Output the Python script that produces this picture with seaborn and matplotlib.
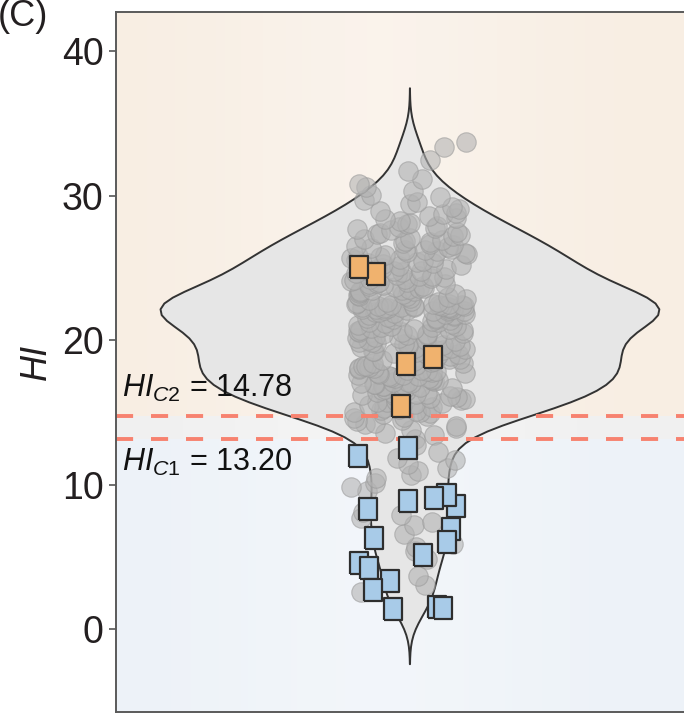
import numpy as np
import pandas as pd
import matplotlib.pyplot as plt
import seaborn as sns
from matplotlib.transforms import blended_transform_factory

# -------------------------------
# Data
# -------------------------------
# grey dots: HI of the samples above the thresholds
hi_grey_high = [
    13.18, 13.45, 13.62, 13.82, 13.94,
    14.06, 14.19, 14.31, 14.44, 14.53, 14.62, 14.71, 14.79, 14.88, 14.97,
    15.02, 15.08, 15.15, 15.21, 15.27, 15.33, 15.40, 15.46, 15.52, 15.58, 15.65, 15.71, 15.77,
    15.83, 15.90, 15.96,
    16.01, 16.06, 16.13, 16.16, 16.23, 16.28, 16.31, 16.38, 16.41, 16.48, 16.53, 16.56, 16.63,
    16.66, 16.74, 16.77, 16.83, 16.86, 16.92, 16.98,
    17.02, 17.06, 17.09, 17.11, 17.15, 17.20, 17.24, 17.29, 17.33, 17.37, 17.42, 17.46, 17.51,
    17.55, 17.60, 17.64, 17.69, 17.73, 17.78, 17.82, 17.87, 17.91, 17.94, 17.96,
    18.03, 18.07, 18.12, 18.16, 18.21, 18.25, 18.30, 18.43, 18.47, 18.52, 18.56, 18.61, 18.65,
    18.70, 18.74, 18.79, 18.83, 18.92, 18.97,
    19.01, 19.06, 19.10, 19.15, 19.19, 19.24, 19.28, 19.33, 19.37, 19.42, 19.46, 19.51, 19.55,
    19.60, 19.64, 19.69, 19.73, 19.78, 19.82, 19.87, 19.91, 19.96,
    20.02, 20.06, 20.14, 20.19, 20.23, 20.31, 20.35, 20.40, 20.44, 20.48, 20.52,
    20.56, 20.61, 20.65, 20.69, 20.73, 20.77, 20.82, 20.86, 20.90, 20.94, 20.98,
    21.02, 21.10, 21.14, 21.18, 21.26, 21.30, 21.34, 21.42, 21.46, 21.50,
    21.54, 21.58, 21.62, 21.66, 21.70, 21.74, 21.78, 21.82, 21.86, 21.90, 21.94, 21.98,
    22.01, 22.04, 22.06, 22.09, 22.11, 22.14, 22.16, 22.19, 22.21, 22.23, 22.24, 22.26, 22.28,
    22.29, 22.31, 22.33, 22.34, 22.36, 22.38, 22.39, 22.41, 22.43, 22.44, 22.47, 22.50, 22.52,
    22.54, 22.58, 22.63, 22.68, 22.74, 22.81, 22.88, 22.95,
    23.02, 23.07, 23.11, 23.16, 23.20, 23.25, 23.29, 23.34, 23.39, 23.43, 23.48, 23.52, 23.57,
    23.61, 23.66, 23.71, 23.75, 23.80, 23.84, 23.89, 23.93, 23.98,
    24.03, 24.08, 24.13, 24.18, 24.23, 24.28, 24.33, 24.38, 24.43, 24.48, 24.53, 24.68, 24.73,
    24.78, 24.83, 24.88, 24.93, 24.98,
    25.03, 25.15, 25.21, 25.27, 25.33, 25.39, 25.45, 25.51, 25.57, 25.63, 25.69, 25.75, 25.81,
    25.87, 25.93, 25.98,
    26.03, 26.10, 26.16, 26.23, 26.29, 26.36, 26.42, 26.49, 26.55, 26.62, 26.68, 26.75, 26.81,
    26.88, 26.94,
    27.04, 27.12, 27.20, 27.28, 27.36, 27.45, 27.53, 27.61, 27.69, 27.78, 27.86, 27.94,
    28.05, 28.16, 28.27, 28.38, 28.50, 28.61, 28.72, 28.83, 28.94,
    29.08, 29.25, 29.42, 29.58, 29.75, 29.92,
    30.10, 30.35, 30.60, 30.85,
    31.20, 31.70,
    32.50, 33.40, 33.70,
]
# grey dots below the thresholds
hi_grey_low = [
    2.60, 3.10, 3.70, 4.90, 5.40, 5.70, 5.95, 6.60, 7.20, 7.45, 7.70, 7.95, 8.10,
    9.60, 9.85, 10.15, 10.45, 10.70, 10.95, 11.20, 11.45, 11.70, 11.90, 12.30, 12.80,
]
# highlighted samples (squares)
hi_orange = [24.60, 25.10, 18.37, 18.86, 15.47]
hi_blue = [12.56, 12.00, 8.89, 8.55, 9.31, 9.10, 8.34, 6.96, 6.06, 6.33,
           5.16, 4.60, 4.26, 3.36, 2.73, 1.56, 1.49, 1.42]

hi_c1 = 13.20
hi_c2 = 14.78
y_ticks = [0, 10, 20, 30, 40]

grey_vals = hi_grey_high + hi_grey_low
all_vals = grey_vals + hi_orange + hi_blue

df_sq = pd.DataFrame({
    "HI": hi_orange + hi_blue,
    "group": ["high"] * len(hi_orange) + ["low"] * len(hi_blue),
})

# -------------------------------
# Style
# -------------------------------
sns.set_style("ticks")
plt.rcParams['font.family'] = ['Liberation Sans', 'DejaVu Sans']
plt.rcParams['mathtext.fontset'] = 'custom'
plt.rcParams['mathtext.rm'] = 'Liberation Sans'
plt.rcParams['mathtext.it'] = 'Liberation Sans:italic'
text_col = '#231f20'

fig = plt.figure(figsize=(6.84, 7.14), dpi=100)
ax = fig.add_axes([0.1696, 0.0028, 0.858, 0.9804])

ylo, yhi = -5.71, 42.73

# background bands
ax.axhspan(hi_c2, yhi, color='#f8eee3', zorder=0, lw=0)
ax.axhspan(hi_c1, hi_c2, color='#f0f0f0', zorder=0, lw=0)
ax.axhspan(ylo, hi_c1, color='#edf2f8', zorder=0, lw=0)
# soft light glow in the middle
gx = np.linspace(-0.5, 0.5, 300)
glow = np.zeros((2, 300, 4))
glow[..., :3] = 1.0
glow[..., 3] = 0.3 * np.exp(-((gx + 0.05) / 0.28) ** 2)
ax.imshow(glow, extent=[-0.5, 0.5, ylo, yhi], aspect='auto', zorder=0.5,
          interpolation='bilinear')

# violin
sns.violinplot(y=all_vals, ax=ax, color='#e6e6e6', saturation=1, inner=None,
               width=0.85, linewidth=1.4, linecolor='#333333', bw_adjust=0.65,
               cut=3, zorder=1)

# grey dots
np.random.seed(3)
sns.stripplot(y=grey_vals, ax=ax, color='#b3b3b3', alpha=0.6, size=14,
              jitter=0.1, linewidth=0.8, edgecolor='#9a9a9a', zorder=2)

# threshold lines
for v in (hi_c1, hi_c2):
    ax.axhline(v, color='#f7826f', lw=2.8, ls=(0, (4.4, 4.6)), zorder=2.5)

# highlighted squares (slightly tall boxes as in the original)
box = [(-0.84, -1), (0.84, -1), (0.84, 1), (-0.84, 1), (-0.84, -1)]
np.random.seed(11)
sns.stripplot(data=df_sq, y="HI", hue="group", ax=ax, marker=box, size=15.5,
              palette={"high": '#f0b26e', "low": '#a8cbe8'}, jitter=0.09,
              linewidth=1.6, edgecolor='#2e2e2e', legend=False, zorder=3)

# threshold labels
tr = blended_transform_factory(ax.transAxes, ax.transData)
ax.text(0.011, 16.08, r'$\mathit{HI}_{\mathit{C2}}$ = 14.78', transform=tr,
        fontsize=22, color='#111111', va='baseline', zorder=5)
ax.text(0.011, 10.98, r'$\mathit{HI}_{\mathit{C1}}$ = 13.20', transform=tr,
        fontsize=22, color='#111111', va='baseline', zorder=5)

ax.set_xlim(-0.5, 0.5)
ax.set_ylim(ylo, yhi)
ax.set_yticks(y_ticks)
ax.set_xticks([])
ax.set_xlabel('')
ax.set_ylabel('HI', fontstyle='italic', fontsize=26, color=text_col, labelpad=6)
ax.tick_params(axis='y', labelsize=27, labelcolor=text_col, color='#555555',
               length=5, width=1.2, pad=4)
for s in ax.spines.values():
    s.set_color('#5a5a5a')
    s.set_linewidth(1.4)

fig.text(-0.004, 0.9636, '(C)', fontsize=26, color=text_col, va='baseline')

fig.savefig('out.png', dpi=100)
